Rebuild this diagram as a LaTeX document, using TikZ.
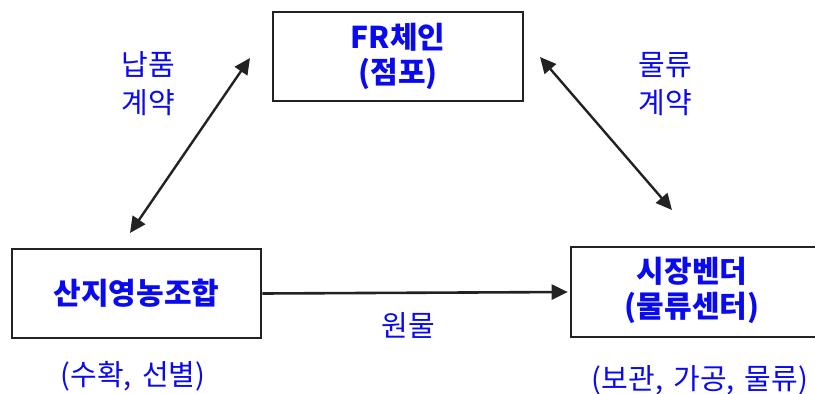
\documentclass[tikz,border=0pt]{standalone}
\usepackage{fontspec}
\setmainfont{Noto Sans CJK KR}
\usetikzlibrary{arrows.meta}
\definecolor{txtblue}{RGB}{10,10,240}
\definecolor{boxline}{RGB}{34,34,34}
\tikzset{
  boxnode/.style={draw=boxline, line width=2.6pt, fill=white, align=center,
    text=txtblue, font=\fontsize{30}{35}\selectfont\bfseries, inner sep=0pt},
  lbl/.style={text=txtblue, align=center, font=\fontsize{29}{38}\selectfont, inner sep=0pt},
  conn/.style={draw=boxline, line width=2.4pt, {Triangle[length=16pt,width=15pt]}-{Triangle[length=16pt,width=15pt]}},
  conn1/.style={draw=boxline, line width=2.6pt, -{Triangle[length=16pt,width=15pt]}}
}
\begin{document}
\begin{tikzpicture}[x=1pt,y=-1pt]
\useasboundingbox (0,0) rectangle (815,394);
\node[boxnode, minimum width=250pt, minimum height=89pt] (fr) at (398,56.5) {FR체인\\(점포)};
\node[boxnode, minimum width=249pt, minimum height=89pt] (sanji) at (136.5,293.5) {산지영농조합};
\coordinate (mktc) at (701,292);
\node[boxnode, minimum width=260pt, minimum height=90pt] (market) at (mktc) {};
\node[text=txtblue, align=center, font=\fontsize{30}{35}\selectfont\bfseries, inner sep=0pt] (mkttext) at (692,290) {시장벤더\\(물류센터)};
\coordinate (a1s) at (130,233);
\coordinate (a1e) at (250,58);
\coordinate (a2s) at (540,57);
\coordinate (a2e) at (672,210);
\draw[conn] (a1s) -- (a1e);
\draw[conn] (a2s) -- (a2e);
\draw[conn1, shorten >=2pt] (sanji.east) -- (market.west);
\node[lbl] (napum) at (148,84) {납품\\계약};
\node[lbl] (mulryu) at (665,84) {물류\\계약};
\node[lbl] (wonmul) at (408,326) {원물};
\node[lbl] (suhwak) at (133,376) {(수확,\hspace{0.35em}선별)};
\node[lbl] (bogwan) at (700,380) {(보관,\hspace{0.35em}가공,\hspace{0.35em}물류)};
\end{tikzpicture}
\end{document}
